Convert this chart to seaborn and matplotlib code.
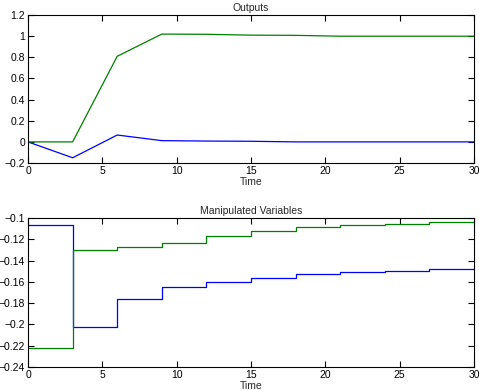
import matplotlib
matplotlib.use("Agg")
import matplotlib.pyplot as plt
import seaborn as sns
import pandas as pd

# Outputs (sampled every 3 time units)
t_out = [0, 3, 6, 9, 12, 15, 18, 21, 24, 27, 30]
y1_out = [0.0, -0.15, 0.065, 0.012, 0.008, 0.006, 0.0, 0.0, 0.0, 0.0, 0.0]
y2_out = [0.0, 0.0, 0.81, 1.02, 1.018, 1.01, 1.008, 1.0, 1.0, 1.0, 1.0]

# Manipulated variables (zero-order hold)
t_mv = [0, 3, 6, 9, 12, 15, 18, 21, 24, 27, 30]
u1 = [-0.107, -0.202, -0.176, -0.165, -0.1604, -0.1567, -0.1529, -0.151, -0.1495, -0.1482, -0.1482]
u2 = [-0.222, -0.130, -0.127, -0.1235, -0.1172, -0.1122, -0.1088, -0.1069, -0.1053, -0.104, -0.104]

top_yticks = [-0.2, 0, 0.2, 0.4, 0.6, 0.8, 1.0, 1.2]
top_ylabels = ["-0.2", "0", "0.2", "0.4", "0.6", "0.8", "1", "1.2"]
bot_yticks = [-0.24, -0.22, -0.2, -0.18, -0.16, -0.14, -0.12, -0.1]
bot_ylabels = ["-0.24", "-0.22", "-0.2", "-0.18", "-0.16", "-0.14", "-0.12", "-0.1"]
xticks = [0, 5, 10, 15, 20, 25, 30]

sns.set_theme(style="ticks")
plt.rcParams['font.family'] = ['Liberation Sans', 'DejaVu Sans']
plt.rcParams['axes.linewidth'] = 0.8

fig = plt.figure(figsize=(4.79, 3.91), dpi=100)
ax1 = fig.add_axes([0.0585, 0.583, 0.931, 0.3785])
ax2 = fig.add_axes([0.0585, 0.0614, 0.931, 0.381])

BLUE = (0, 0, 1)
GREEN = (0, 0.5, 0)

df_out = pd.DataFrame({"Time": t_out, "y1": y1_out, "y2": y2_out})
sns.lineplot(data=df_out, x="Time", y="y1", ax=ax1, color=BLUE, lw=0.9)
sns.lineplot(data=df_out, x="Time", y="y2", ax=ax1, color=GREEN, lw=0.9)

df_mv = pd.DataFrame({"Time": t_mv, "u1": u1, "u2": u2})
sns.lineplot(data=df_mv, x="Time", y="u1", ax=ax2, color=BLUE, lw=0.9, drawstyle="steps-post")
sns.lineplot(data=df_mv, x="Time", y="u2", ax=ax2, color=GREEN, lw=0.9, drawstyle="steps-post")

fs = 7.5
for ax, yt, yl, ttl, lims in [
    (ax1, top_yticks, top_ylabels, "Outputs", (-0.2, 1.2)),
    (ax2, bot_yticks, bot_ylabels, "Manipulated Variables", (-0.24, -0.1)),
]:
    ax.set_xlim(0, 30)
    ax.set_ylim(*lims)
    ax.set_xticks(xticks)
    ax.set_xticklabels([str(x) for x in xticks], fontsize=fs)
    ax.set_yticks(yt)
    ax.set_yticklabels([s.replace("-", "\u2212") for s in yl], fontsize=fs)
    ax.tick_params(direction="in", top=True, right=True, length=4, width=0.8, pad=2, colors="black")
    ax.set_xlabel("Time", fontsize=fs, labelpad=1)
    ax.set_ylabel("")
    ax.set_title(ttl, fontsize=fs, pad=3)
    for s in ax.spines.values():
        s.set_visible(True)
        s.set_color("black")

fig.savefig("out.png", dpi=100)
